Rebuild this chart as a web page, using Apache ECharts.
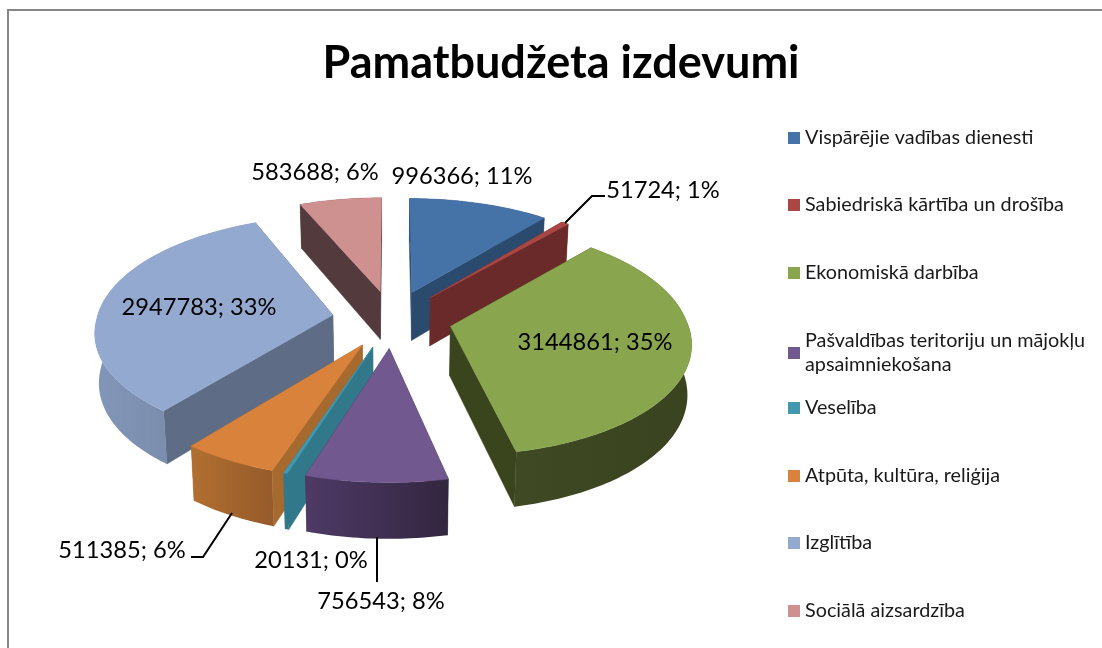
<!DOCTYPE html>
<html><head><meta charset="utf-8">
<script src="https://cdn.jsdelivr.net/npm/echarts@6/dist/echarts.min.js"></script>
<style>html,body{margin:0;padding:0;background:#fff}#c{width:1102px;height:648px}</style>
</head><body><div id="c"></div>
<script>
// Data
const categories = ['Vispārējie vadības dienesti','Sabiedriskā kārtība un drošība','Ekonomiskā darbība','Pašvaldības teritoriju un mājokļu\napsaimniekošana','Veselība','Atpūta, kultūra, reliģija','Izglītība','Sociālā aizsardzība'];
const values = [996366,51724,3144861,756543,20131,511385,2947783,583688];
const percents = [11,1,35,8,0,6,33,6];
const titleText = 'Pamatbudžeta izdevumi';

// Styles
const topColors = ['#4572a7','#aa4643','#89a54e','#71588f','#4198af','#d8823c','#93a9cf','#ce9190'];
const cutColors = ['#2a4a6e','#6b2a2a','#3a451e','#3f3052','#31788a','#a66a2e','#5e6c85','#533a3c'];
const rimFrom = ['#2a4a6e','#6b2a2a','#3f4a24','#4e3a66','#31788a','#b16f31','#8296b8','#533a3c'];
const rimTo = ['#2a4a6e','#6b2a2a','#39431f','#33263f','#31788a','#955b2a','#71829f','#533a3c'];
const paintOrder = [7,0,1,2,6,5,4,3];

// Layout of the projected pie
const CX=392, CY=319, R=236, EXPLODE=0.254, PERSP_BACK=9, PERSP_FRONT=7.5, Y_A=113.7, Y_B=13.3;
const font='Lato, "Noto Sans", sans-serif';
const labelPos = [[462,176],[663,190],[595,342],[381,601],[311,560],[122,550],[199,307],[315,172]];
const legendY = [138,205,273,353,408,476,543,611];
const leaders = [[[565,223],[592,196],[605,196]],[[232,513],[203,557],[191,557]],[[377,537],[377,582]]];

const total = values.reduce((a,b)=>a+b,0);
const slices=[]; let acc=0;
values.forEach(v=>{const a0=acc/total*2*Math.PI; acc+=v; slices.push([a0,acc/total*2*Math.PI]);});

function project(X,W){
  return [CX+R*X*(1+W/(W>0?PERSP_FRONT:PERSP_BACK)), CY+Y_A*W+Y_B*W*W];
}
function down(p){
  return [p[0]-0.014*(p[0]-390), p[1]+49+(p[1]-CY)*0.045];
}
function poly(points,fill,stroke){
  return {type:'polygon',shape:{points:points},style:{fill:fill,stroke:stroke||fill,lineWidth:0.5}};
}
function renderSlice(i){
  return function(){
    const a0=slices[i][0],a1=slices[i][1],m=(a0+a1)/2;
    const ex=EXPLODE*Math.sin(m), ew=-EXPLODE*Math.cos(m);
    const apex=project(ex,ew);
    const arc=[]; const n=Math.max(4,Math.ceil((a1-a0)/0.02));
    for(let k=0;k<=n;k++){const t=a0+(a1-a0)*k/n; arc.push(project(ex+Math.sin(t),ew-Math.cos(t)));}
    const first=arc[0],last=arc[arc.length-1];
    const children=[];
    children.push(poly([apex,last,down(last),down(apex)],cutColors[i]));
    children.push(poly([apex,first,down(first),down(apex)],cutColors[i]));
    const rim=arc.concat(arc.map(down).reverse());
    children.push(poly(rim,{type:'linear',x:0,y:0,x2:1,y2:0,colorStops:[{offset:0,color:rimFrom[i]},{offset:1,color:rimTo[i]}]},'transparent'));
    children.push(poly([apex].concat(arc),topColors[i]));
    return {type:'group',children:children};
  };
}
const series=paintOrder.map((i,z)=>({
  type:'custom',name:categories[i],coordinateSystem:'none',silent:true,z:2+z,
  itemStyle:{color:topColors[i]},
  data:[[values[i]]],renderItem:renderSlice(i),animation:false
}));
const legends=categories.map((name,i)=>({
  show:true,orient:'vertical',left:788,top:legendY[i]-(name.includes('\n')?24:12),
  data:[name],icon:'rect',itemWidth:12,itemHeight:12,padding:0,selectedMode:false,
  textStyle:{fontFamily:font,fontSize:19.8,color:'#1a1a1a',lineHeight:24}
}));
const graphics=[
  {type:'polyline',shape:{points:[[8,660],[8,10],[1110,10]]},style:{fill:'none',stroke:'#868686',lineWidth:2},z:1},
  ...leaders.map(pts=>({type:'polyline',shape:{points:pts},style:{fill:'none',stroke:'#000',lineWidth:2},z:30})),
  ...labelPos.map((p,i)=>({type:'text',x:p[0],y:p[1],z:31,style:{
    text:values[i]+'; '+percents[i]+'%',font:'23.7px '+font,fill:'#000',align:'center',verticalAlign:'middle'}}))
];
const chart=echarts.init(document.getElementById('c'),null,{renderer:'canvas'});
chart.setOption({
  animation:false,backgroundColor:'#fff',
  title:{text:titleText,left:556,top:36,textAlign:'center',textStyle:{fontFamily:font,fontSize:45,fontWeight:'bold',color:'#000'}},
  tooltip:{show:false},legend:legends,series:series,graphic:graphics
});
</script></body></html>
